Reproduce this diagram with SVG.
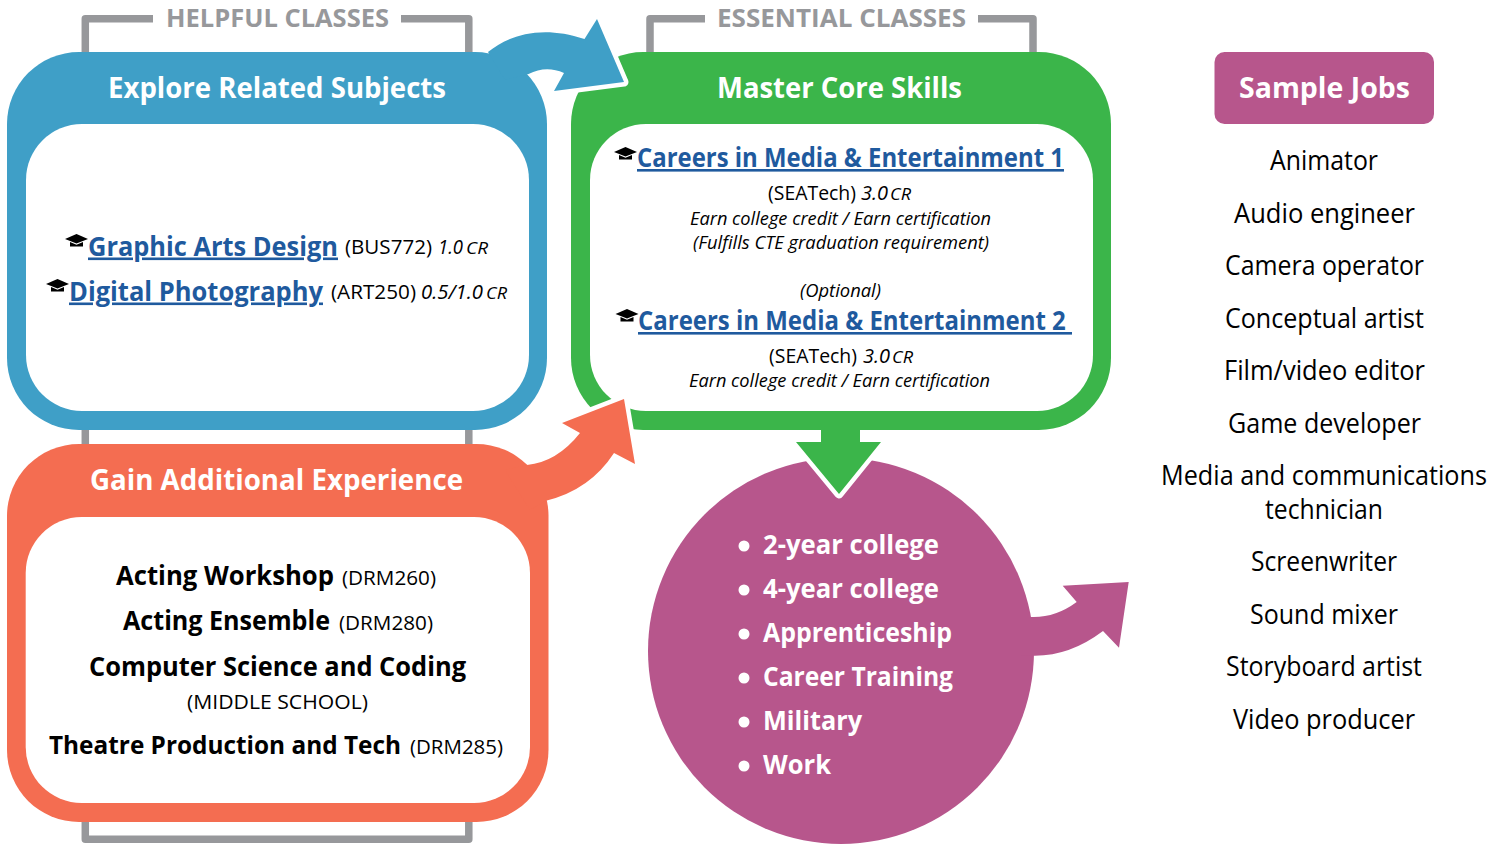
<svg xmlns="http://www.w3.org/2000/svg" xmlns:xlink="http://www.w3.org/1999/xlink" width="1506" height="844" viewBox="0 0 1506 844">
<style>
text{font-family:"Open Sans","Noto Sans","Liberation Sans",sans-serif;fill:#000}
.ttl{font-size:28px;font-weight:700;fill:#fff}
.brk{font-size:25px;font-weight:700;fill:#97989b}
.lnk{font-size:26px;font-weight:700;fill:#1f5a9e;text-decoration:underline}
.b{font-size:26px;font-weight:700}
.b2{font-size:24.800px;font-weight:700}
.r{font-size:20.500px}
.i{font-size:20.500px;font-style:italic}
.s{font-size:18.500px;font-style:italic}
.cr{font-size:15.500px;font-style:italic}
.li{font-size:27px;font-weight:700;fill:#fff}
.job{font-size:26.500px}
.gray{fill:none;stroke:#97989b;stroke-width:7.500;stroke-linejoin:round}
.wh{fill:none;stroke:#fff;stroke-width:9;stroke-linejoin:round;stroke-linecap:round}
</style>
<defs>
<g id="cap"><path d="M0,5 L11.500,0 L23,5 L11.500,9.500 Z" fill="#000"/><path d="M5,8 L11.500,10.700 L18,8 V12.500 H5 Z" fill="#000"/></g>
</defs>
<g id="brackets">
<path class="gray" d="M85.300,56 V18.700 H153 M401,18.700 H468.800 V56"/>
<path class="gray" d="M650,56 V18.700 H705 M978,18.700 H1033 V56"/>
<path class="gray" d="M85.300,425 V450 M468.800,425 V450"/>
<path class="gray" d="M85.300,815 V839.300 H468.800 V815"/>
<text class="brk" x="166" y="27" textLength="223" lengthAdjust="spacingAndGlyphs">HELPFUL CLASSES</text>
<text class="brk" x="717" y="27" textLength="249" lengthAdjust="spacingAndGlyphs">ESSENTIAL CLASSES</text>
</g>
<g id="node-explore">
<rect x="7" y="52" width="540" height="378" rx="72" fill="#3f9fc7"/>
<rect x="26" y="124" width="503" height="287" rx="56" fill="#fff"/>
<text class="ttl" x="108" y="98" textLength="338" lengthAdjust="spacingAndGlyphs">Explore Related Subjects</text>
<use xlink:href="#cap" href="#cap" x="65" y="234"/>
<text class="lnk" x="88" y="255.500" textLength="250" lengthAdjust="spacingAndGlyphs">Graphic Arts Design</text>
<text class="r" x="345" y="254" textLength="87" lengthAdjust="spacingAndGlyphs">(BUS772)</text>
<text class="i" x="438" y="254" textLength="25" lengthAdjust="spacingAndGlyphs">1.0</text>
<text class="cr" x="466" y="254" textLength="22" lengthAdjust="spacingAndGlyphs">CR</text>
<use xlink:href="#cap" href="#cap" x="46" y="279"/>
<text class="lnk" x="69" y="300.500" textLength="254" lengthAdjust="spacingAndGlyphs">Digital Photography</text>
<text class="r" x="331" y="299" textLength="85" lengthAdjust="spacingAndGlyphs">(ART250)</text>
<text class="i" x="421" y="299" textLength="62" lengthAdjust="spacingAndGlyphs">0.5/1.0</text>
<text class="cr" x="486" y="299" textLength="21" lengthAdjust="spacingAndGlyphs">CR</text>
</g>
<g id="node-master">
<rect x="571" y="52" width="540" height="378" rx="72" fill="#3bb54a"/>
<rect x="590" y="124" width="503" height="287" rx="56" fill="#fff"/>
<text class="ttl" x="717" y="98" textLength="245" lengthAdjust="spacingAndGlyphs">Master Core Skills</text>
<use xlink:href="#cap" href="#cap" x="614" y="147"/>
<text class="lnk" x="637" y="167" textLength="427" lengthAdjust="spacingAndGlyphs">Careers in Media &amp; Entertainment 1</text>
<text class="r" x="768" y="200" textLength="88" lengthAdjust="spacingAndGlyphs">(SEATech)</text>
<text class="i" x="861" y="200" textLength="27" lengthAdjust="spacingAndGlyphs">3.0</text>
<text class="cr" x="890" y="200" textLength="21" lengthAdjust="spacingAndGlyphs">CR</text>
<text class="s" x="690" y="225" textLength="301" lengthAdjust="spacingAndGlyphs">Earn college credit / Earn certification</text>
<text class="s" x="693" y="249" textLength="296" lengthAdjust="spacingAndGlyphs">(Fulfills CTE graduation requirement)</text>
<text class="s" x="800" y="297" textLength="81" lengthAdjust="spacingAndGlyphs">(Optional)</text>
<use xlink:href="#cap" href="#cap" x="615.500" y="309"/>
<text class="lnk" x="638" y="330" textLength="434" lengthAdjust="spacingAndGlyphs">Careers in Media &amp; Entertainment 2&#160;</text>
<text class="r" x="769" y="363" textLength="88" lengthAdjust="spacingAndGlyphs">(SEATech)</text>
<text class="i" x="863" y="363" textLength="27" lengthAdjust="spacingAndGlyphs">3.0</text>
<text class="cr" x="892" y="363" textLength="21" lengthAdjust="spacingAndGlyphs">CR</text>
<text class="s" x="689" y="387" textLength="301" lengthAdjust="spacingAndGlyphs">Earn college credit / Earn certification</text>
</g>
<g id="node-gain">
<rect x="7" y="444" width="541.500" height="378" rx="72" fill="#f46d51"/>
<rect x="25.700" y="517" width="504.300" height="286" rx="56" fill="#fff"/>
<text class="ttl" x="90" y="490" textLength="373" lengthAdjust="spacingAndGlyphs">Gain Additional Experience</text>
<text class="b" x="116" y="585" textLength="218" lengthAdjust="spacingAndGlyphs">Acting Workshop</text>
<text class="r" x="342" y="584.500" textLength="94" lengthAdjust="spacingAndGlyphs">(DRM260)</text>
<text class="b" x="123" y="630" textLength="207" lengthAdjust="spacingAndGlyphs">Acting Ensemble</text>
<text class="r" x="339" y="629.500" textLength="94" lengthAdjust="spacingAndGlyphs">(DRM280)</text>
<text class="b" x="89" y="676" textLength="377" lengthAdjust="spacingAndGlyphs">Computer Science and Coding</text>
<text class="r" x="187" y="709" textLength="181" lengthAdjust="spacingAndGlyphs">(MIDDLE SCHOOL)</text>
<text class="b2" x="49" y="754" textLength="352" lengthAdjust="spacingAndGlyphs">Theatre Production and Tech</text>
<text class="r" x="410" y="753.500" textLength="93" lengthAdjust="spacingAndGlyphs">(DRM285)</text>
</g>
<g id="node-outcomes">
<circle cx="841" cy="651" r="193" fill="#b7568c"/>
<g fill="#fff"><circle cx="744" cy="546" r="5.500"/><circle cx="744" cy="590" r="5.500"/><circle cx="744" cy="634" r="5.500"/><circle cx="744" cy="678" r="5.500"/><circle cx="744" cy="722" r="5.500"/><circle cx="744" cy="766" r="5.500"/></g>
<text class="li" x="763" y="554" textLength="176" lengthAdjust="spacingAndGlyphs">2-year college</text>
<text class="li" x="763" y="598" textLength="176" lengthAdjust="spacingAndGlyphs">4-year college</text>
<text class="li" x="763" y="642" textLength="189" lengthAdjust="spacingAndGlyphs">Apprenticeship</text>
<text class="li" x="763" y="686" textLength="190" lengthAdjust="spacingAndGlyphs">Career Training</text>
<text class="li" x="763" y="730" textLength="99" lengthAdjust="spacingAndGlyphs">Military</text>
<text class="li" x="763" y="774" textLength="68" lengthAdjust="spacingAndGlyphs">Work</text>
</g>
<g id="node-jobs">
<rect x="1214.500" y="52" width="219.500" height="72" rx="10" fill="#b7568c"/>
<text class="ttl" x="1239" y="98" textLength="171" lengthAdjust="spacingAndGlyphs">Sample Jobs</text>
<text class="job" x="1270" y="170" textLength="108" lengthAdjust="spacingAndGlyphs">Animator</text>
<text class="job" x="1234" y="223" textLength="181" lengthAdjust="spacingAndGlyphs">Audio engineer</text>
<text class="job" x="1225" y="275" textLength="199" lengthAdjust="spacingAndGlyphs">Camera operator</text>
<text class="job" x="1225" y="328" textLength="199" lengthAdjust="spacingAndGlyphs">Conceptual artist</text>
<text class="job" x="1224" y="380" textLength="201" lengthAdjust="spacingAndGlyphs">Film/video editor</text>
<text class="job" x="1228" y="433" textLength="193" lengthAdjust="spacingAndGlyphs">Game developer</text>
<text class="job" x="1161" y="485" textLength="326" lengthAdjust="spacingAndGlyphs">Media and communications</text>
<text class="job" x="1265" y="519" textLength="118" lengthAdjust="spacingAndGlyphs">technician</text>
<text class="job" x="1251" y="571" textLength="146" lengthAdjust="spacingAndGlyphs">Screenwriter</text>
<text class="job" x="1250" y="624" textLength="148" lengthAdjust="spacingAndGlyphs">Sound mixer</text>
<text class="job" x="1226" y="676" textLength="196" lengthAdjust="spacingAndGlyphs">Storyboard artist</text>
<text class="job" x="1233" y="729" textLength="182" lengthAdjust="spacingAndGlyphs">Video producer</text>
</g>
<g id="connectors">
<path class="wh" d="M597,19 L624,82 L554,91"/>
<path fill="#3f9fc7" d="M488,52 C508,36 540,24 584.500,39 L597,19 L624,82 L554,91 L564,73 Q546,65 528.600,74 L505,80 Z"/>
<path class="wh" d="M562,423 L624,399 L635,464"/>
<path fill="#f46d51" d="M527,465 Q557,462 580,433 L562,423 L624,399 L635,464 L614,453 Q590,490 546,500.700 L530,510 L505,470 Z"/>
<path class="wh" d="M796,442 L839,494 L881,442"/>
<path fill="#3bb54a" d="M821,428 H860 V442 H881 L839,494 L796,442 H821 Z"/>
<path fill="#b7568c" d="M1031,617 Q1055,618 1076.700,602 L1062.700,585.700 L1128.700,582 L1119,647.700 L1103,631 Q1070,656 1034,655.700 L1020,655 L1020,617 Z"/>
</g>
</svg>
